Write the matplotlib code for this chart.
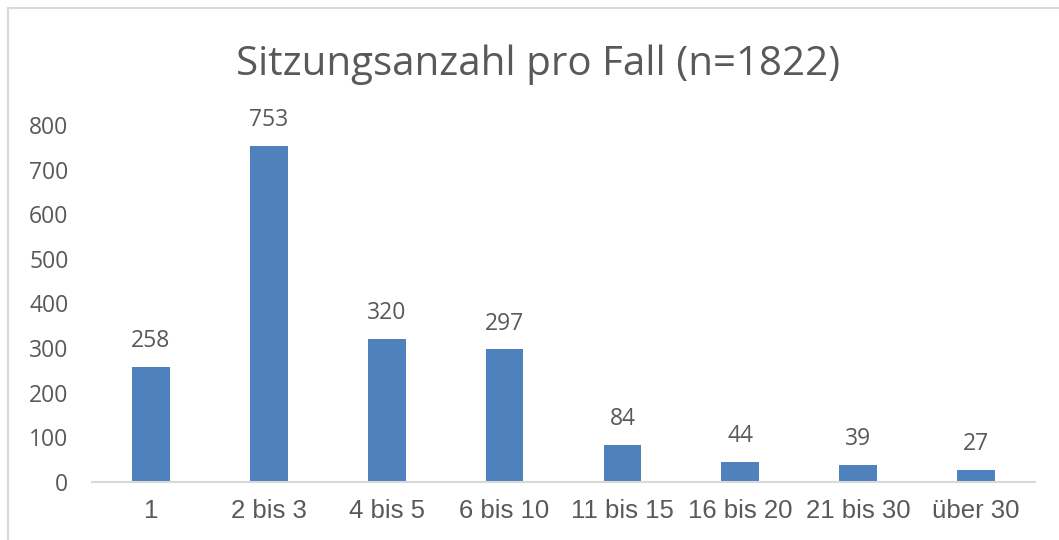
import matplotlib
matplotlib.use("Agg")
import matplotlib.pyplot as plt
from matplotlib.patches import Rectangle

categories = ["1", "2 bis 3", "4 bis 5", "6 bis 10", "11 bis 15", "16 bis 20", "21 bis 30", "über 30"]
values = [258, 753, 320, 297, 84, 44, 39, 27]
yticks = [0, 100, 200, 300, 400, 500, 600, 700, 800]
title = "Sitzungsanzahl pro Fall (n=1822)"

text_color = "#595959"
bar_color = "#4F81BD"

fig = plt.figure(figsize=(10.59, 5.40), dpi=100)
fig.patches.append(Rectangle((8/1059, -0.1), 1.2, 1 - 8/540 + 0.1, transform=fig.transFigure,
                             fill=False, edgecolor="#D9D9D9", linewidth=1.5))

ax = fig.add_axes([92/1059, 1 - 482/540, (1035 - 92)/1059, (482 - 125)/540])
x = list(range(len(categories)))
ax.bar(x, values, width=0.32, color=bar_color)
ax.set_xlim(-0.5, len(categories) - 0.5)
ax.set_ylim(0, 800)
ax.set_yticks(yticks)
ax.set_yticklabels([str(v) for v in yticks], fontfamily="Open Sans", fontsize=16.5, color=text_color)
ax.set_xticks(x)
ax.set_xticklabels(categories, fontfamily="Liberation Sans", fontsize=18.5, color=text_color)
ax.tick_params(axis="y", length=0, pad=17)
ax.tick_params(axis="x", length=0, pad=12)
for s in ["top", "right", "left"]:
    ax.spines[s].set_visible(False)
ax.spines["bottom"].set_color("#D9D9D9")
ax.spines["bottom"].set_linewidth(1.5)

for xi, v in zip(x, values):
    ax.annotate(str(v), (xi, v), xytext=(0, 10), textcoords="offset points",
                ha="center", va="bottom", fontfamily="Open Sans", fontsize=16.5,
                color=text_color, annotation_clip=False)

fig.text(538/1059, 1 - 65/540, title, ha="center", va="center",
         fontfamily="Open Sans", fontsize=29, color=text_color)

fig.savefig("out.png", dpi=100)
